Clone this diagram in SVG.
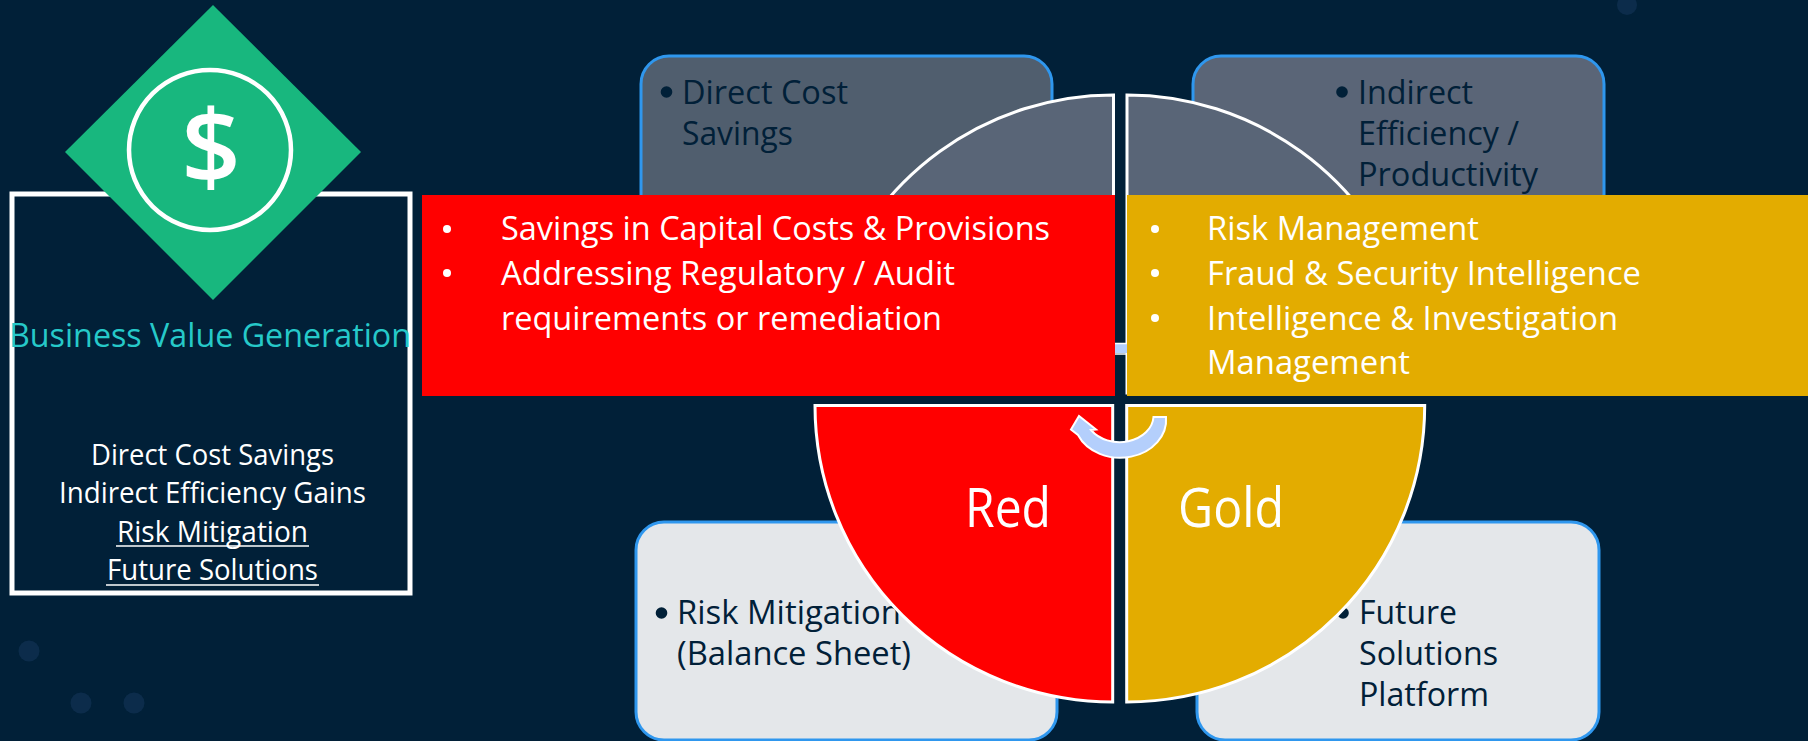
<svg xmlns="http://www.w3.org/2000/svg" width="1808" height="741" viewBox="0 0 1808 741">
<style>
text{font-family:"Open Sans","Liberation Sans",sans-serif}
.bg{fill:#012038}
.dot{fill:#0c2c4b}
.card{stroke:#2f97ee;stroke-width:3}
.c{font-size:32.5px;fill:#012038}
.w{font-size:32.5px;fill:#fff}
.side{font-size:29px;fill:#fff}
.big{font-size:55px;fill:#fff}
.q{stroke:#fff;stroke-width:3}
.u{stroke:#fff;stroke-width:1.6}
.arr{fill:#b4cffc;stroke:#fff;stroke-width:2}
</style>
<rect class="bg" width="1808" height="741"/>
<g id="background-dots">
<circle class="dot" cx="1627" cy="5" r="10"/>
<circle class="dot" cx="29" cy="651" r="10.5"/>
<circle class="dot" cx="81" cy="703" r="10.5"/>
<circle class="dot" cx="134" cy="703" r="10.5"/>
</g>
<g id="value-panel">
<rect x="12" y="194" width="398" height="399" fill="none" stroke="#fff" stroke-width="5"/>
<text x="9" y="347" textLength="402" lengthAdjust="spacingAndGlyphs" font-size="33" fill="#26c9c9">Business Value Generation</text>
<text class="side" x="91" y="464.5" textLength="243" lengthAdjust="spacingAndGlyphs">Direct Cost Savings</text>
<text class="side" x="59" y="503" textLength="307" lengthAdjust="spacingAndGlyphs">Indirect Efficiency Gains</text>
<text class="side" x="117" y="541.5" textLength="191" lengthAdjust="spacingAndGlyphs">Risk Mitigation</text>
<line class="u" x1="116" y1="546" x2="309" y2="546"/>
<text class="side" x="107" y="580" textLength="211" lengthAdjust="spacingAndGlyphs">Future Solutions</text>
<line class="u" x1="106" y1="585" x2="319" y2="585"/>
</g>
<g id="dollar-icon">
<polygon points="213,5 361,152 213,300 65,152" fill="#18b77e"/>
<ellipse cx="210" cy="150" rx="81" ry="80" fill="none" stroke="#fff" stroke-width="4.5"/>
<text x="211" y="184" text-anchor="middle" font-size="104" font-weight="600" fill="#fff">$</text>
</g>
<g id="card-direct">
<rect class="card" x="641" y="56" width="411" height="240" rx="28" fill="#505e6e"/>
<circle cx="666.5" cy="92" r="5.8" fill="#012038"/>
<text class="c" x="682" y="104" textLength="166" lengthAdjust="spacingAndGlyphs">Direct Cost</text>
<text class="c" x="682" y="145" textLength="111" lengthAdjust="spacingAndGlyphs">Savings</text>
</g>
<g id="card-indirect">
<rect class="card" x="1193" y="56" width="411" height="240" rx="28" fill="#5a6577"/>
<circle cx="1342" cy="92" r="5.8" fill="#012038"/>
<text class="c" x="1358" y="104" textLength="115" lengthAdjust="spacingAndGlyphs">Indirect</text>
<text class="c" x="1358" y="145" textLength="161" lengthAdjust="spacingAndGlyphs">Efficiency /</text>
<text class="c" x="1358" y="186" textLength="180" lengthAdjust="spacingAndGlyphs">Productivity</text>
</g>
<g id="card-risk">
<rect class="card" x="636" y="522" width="421" height="218" rx="28" fill="#e4e7ea"/>
<circle cx="661.5" cy="613" r="5.8" fill="#012038"/>
<text class="c" x="677" y="624" textLength="224" lengthAdjust="spacingAndGlyphs">Risk Mitigation</text>
<text class="c" x="677" y="665" textLength="234" lengthAdjust="spacingAndGlyphs">(Balance Sheet)</text>
</g>
<g id="card-future">
<rect class="card" x="1197" y="522" width="402" height="218" rx="28" fill="#e4e7ea"/>
<circle cx="1343" cy="613" r="5.8" fill="#012038"/>
<text class="c" x="1359" y="624" textLength="98" lengthAdjust="spacingAndGlyphs">Future</text>
<text class="c" x="1359" y="665" textLength="139" lengthAdjust="spacingAndGlyphs">Solutions</text>
<text class="c" x="1359" y="706" textLength="130" lengthAdjust="spacingAndGlyphs">Platform</text>
</g>
<g id="quarter-top-left">
<path class="q" d="M1113.5 300V95A298 301 0 0 0 831.1 300Z" fill="#596577"/>
</g>
<g id="quarter-top-right">
<path class="q" d="M1127 393V95A298 301 0 0 1 1409.4 300H1200V393Z" fill="#596577"/>
</g>
<g id="connectors">
<path fill="#b4cffc" d="M1115 344H1127V353H1115Z"/>
<path stroke="#fff" stroke-width="1.5" d="M1115 343.5H1127M1115 354H1127"/>
</g>
<g id="box-red">
<rect x="422" y="195" width="693" height="201" fill="#ff0000"/>
<circle cx="447" cy="229" r="4" fill="#fff"/>
<circle cx="447" cy="273" r="4" fill="#fff"/>
<text class="w" x="501" y="240" textLength="549" lengthAdjust="spacingAndGlyphs">Savings in Capital Costs &amp; Provisions</text>
<text class="w" x="501" y="285" textLength="454" lengthAdjust="spacingAndGlyphs">Addressing Regulatory / Audit</text>
<text class="w" x="501" y="330" textLength="441" lengthAdjust="spacingAndGlyphs">requirements or remediation</text>
</g>
<g id="box-gold">
<rect x="1127" y="195" width="681" height="201" fill="#e3ac00"/>
<circle cx="1155" cy="229" r="4" fill="#fff"/>
<circle cx="1155" cy="273" r="4" fill="#fff"/>
<circle cx="1155" cy="318" r="4" fill="#fff"/>
<text class="w" x="1207" y="240" textLength="272" lengthAdjust="spacingAndGlyphs">Risk Management</text>
<text class="w" x="1207" y="285" textLength="434" lengthAdjust="spacingAndGlyphs">Fraud &amp; Security Intelligence</text>
<text class="w" x="1207" y="330" textLength="411" lengthAdjust="spacingAndGlyphs">Intelligence &amp; Investigation</text>
<text class="w" x="1207" y="374" textLength="203" lengthAdjust="spacingAndGlyphs">Management</text>
</g>
<g id="quarter-red">
<path class="q" d="M1112.7 405.5V702A297.7 296.5 0 0 1 815 405.5Z" fill="#ff0000"/>
<text class="big" x="965" y="527" textLength="86" lengthAdjust="spacingAndGlyphs">Red</text>
</g>
<g id="quarter-gold">
<path class="q" d="M1126.7 405.5V702A298 296.5 0 0 0 1424.7 405.5Z" fill="#e3ac00"/>
<text class="big" x="1178" y="527" textLength="106" lengthAdjust="spacingAndGlyphs">Gold</text>
</g>
<g id="connectors-cycle">
<path class="arr" d="M1166 417A46 38 0 0 1 1078 435L1071 429.5L1079 416L1096 429.5L1091 430A34 26.5 0 0 0 1153.5 417Z"/>
</g>
</svg>
